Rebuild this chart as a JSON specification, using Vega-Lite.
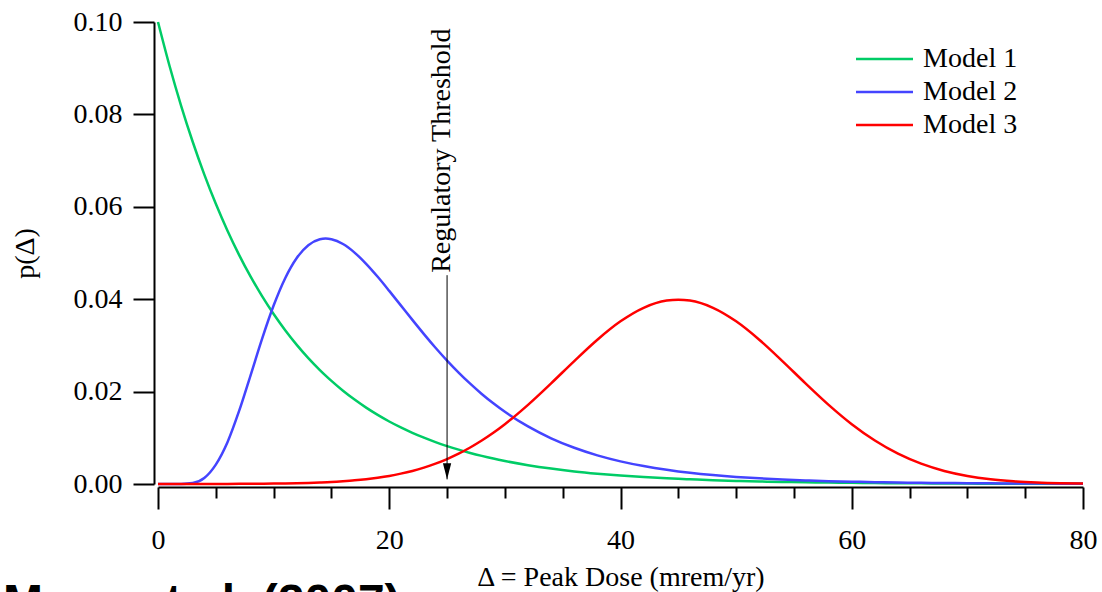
{
  "$schema": "https://vega.github.io/schema/vega-lite/v6.json",
  "width": 925,
  "height": 462,
  "autosize": "none",
  "padding": {"left": 158, "top": 22, "right": 19, "bottom": 108},
  "background": "white",
  "config": {
    "view": {"stroke": null},
    "axis": {"grid": false, "tickColor": "black", "domainColor": "black", "labelColor": "black", "titleColor": "black", "labelFont": "Liberation Serif", "titleFont": "Liberation Serif", "labelFontSize": 28, "titleFontSize": 28, "titleFontWeight": "normal", "labelFlush": false, "labelOverlap": false}
  },
  "layer": [
    {
      "data": {"values": [
        {"m":"Model 1","x":0,"p":0.1},{"m":"Model 1","x":1,"p":0.09048},{"m":"Model 1","x":2,"p":0.08187},{"m":"Model 1","x":3,"p":0.07408},{"m":"Model 1","x":4,"p":0.06703},{"m":"Model 1","x":5,"p":0.06065},{"m":"Model 1","x":6,"p":0.05488},{"m":"Model 1","x":7,"p":0.04966},{"m":"Model 1","x":8,"p":0.04493},{"m":"Model 1","x":9,"p":0.04066},{"m":"Model 1","x":10,"p":0.03679},{"m":"Model 1","x":11,"p":0.03329},{"m":"Model 1","x":12,"p":0.03012},{"m":"Model 1","x":13,"p":0.02725},{"m":"Model 1","x":14,"p":0.02466},{"m":"Model 1","x":14.5,"p":0.02346},{"m":"Model 1","x":15,"p":0.02231},{"m":"Model 1","x":16,"p":0.02019},{"m":"Model 1","x":17,"p":0.01827},{"m":"Model 1","x":18,"p":0.01653},{"m":"Model 1","x":19,"p":0.01496},{"m":"Model 1","x":20,"p":0.01353},{"m":"Model 1","x":21,"p":0.01225},{"m":"Model 1","x":22,"p":0.01108},{"m":"Model 1","x":23,"p":0.01003},{"m":"Model 1","x":24,"p":0.00907},{"m":"Model 1","x":25,"p":0.00821},{"m":"Model 1","x":26,"p":0.00743},{"m":"Model 1","x":27,"p":0.00672},{"m":"Model 1","x":28,"p":0.00608},{"m":"Model 1","x":29,"p":0.0055},{"m":"Model 1","x":30,"p":0.00498},{"m":"Model 1","x":32,"p":0.00408},{"m":"Model 1","x":34,"p":0.00334},{"m":"Model 1","x":36,"p":0.00273},{"m":"Model 1","x":38,"p":0.00224},{"m":"Model 1","x":40,"p":0.00183},{"m":"Model 1","x":42,"p":0.0015},{"m":"Model 1","x":44,"p":0.00123},{"m":"Model 1","x":45,"p":0.00111},{"m":"Model 1","x":46,"p":0.00101},{"m":"Model 1","x":48,"p":0.00082},{"m":"Model 1","x":50,"p":0.00067},{"m":"Model 1","x":52,"p":0.00055},{"m":"Model 1","x":54,"p":0.00045},{"m":"Model 1","x":56,"p":0.00037},{"m":"Model 1","x":58,"p":0.0003},{"m":"Model 1","x":60,"p":0.00025},{"m":"Model 1","x":62,"p":0.0002},{"m":"Model 1","x":64,"p":0.00017},{"m":"Model 1","x":66,"p":0.00014},{"m":"Model 1","x":68,"p":0.00011},{"m":"Model 1","x":70,"p":0.00009},{"m":"Model 1","x":72,"p":0.00007},{"m":"Model 1","x":74,"p":0.00006},{"m":"Model 1","x":76,"p":0.00005},{"m":"Model 1","x":78,"p":0.00004},{"m":"Model 1","x":80,"p":0.00003},
        {"m":"Model 2","x":0,"p":0},{"m":"Model 2","x":1,"p":0},{"m":"Model 2","x":2,"p":0.00001},{"m":"Model 2","x":3,"p":0.0002},{"m":"Model 2","x":4,"p":0.0013},{"m":"Model 2","x":5,"p":0.0042},{"m":"Model 2","x":6,"p":0.00899},{"m":"Model 2","x":7,"p":0.0157},{"m":"Model 2","x":8,"p":0.02348},{"m":"Model 2","x":9,"p":0.03142},{"m":"Model 2","x":10,"p":0.03863},{"m":"Model 2","x":11,"p":0.04455},{"m":"Model 2","x":12,"p":0.04892},{"m":"Model 2","x":13,"p":0.05169},{"m":"Model 2","x":14,"p":0.05298},{"m":"Model 2","x":14.5,"p":0.05314},{"m":"Model 2","x":15,"p":0.05298},{"m":"Model 2","x":16,"p":0.05194},{"m":"Model 2","x":17,"p":0.05009},{"m":"Model 2","x":18,"p":0.04766},{"m":"Model 2","x":19,"p":0.04485},{"m":"Model 2","x":20,"p":0.0418},{"m":"Model 2","x":21,"p":0.03866},{"m":"Model 2","x":22,"p":0.03552},{"m":"Model 2","x":23,"p":0.03245},{"m":"Model 2","x":24,"p":0.0295},{"m":"Model 2","x":25,"p":0.02672},{"m":"Model 2","x":26,"p":0.02412},{"m":"Model 2","x":27,"p":0.02171},{"m":"Model 2","x":28,"p":0.01949},{"m":"Model 2","x":29,"p":0.01747},{"m":"Model 2","x":30,"p":0.01563},{"m":"Model 2","x":32,"p":0.01246},{"m":"Model 2","x":34,"p":0.00989},{"m":"Model 2","x":36,"p":0.00784},{"m":"Model 2","x":38,"p":0.0062},{"m":"Model 2","x":40,"p":0.0049},{"m":"Model 2","x":42,"p":0.00388},{"m":"Model 2","x":44,"p":0.00307},{"m":"Model 2","x":45,"p":0.00273},{"m":"Model 2","x":46,"p":0.00243},{"m":"Model 2","x":48,"p":0.00193},{"m":"Model 2","x":50,"p":0.00153},{"m":"Model 2","x":52,"p":0.00122},{"m":"Model 2","x":54,"p":0.00097},{"m":"Model 2","x":56,"p":0.00078},{"m":"Model 2","x":58,"p":0.00062},{"m":"Model 2","x":60,"p":0.0005},{"m":"Model 2","x":62,"p":0.0004},{"m":"Model 2","x":64,"p":0.00032},{"m":"Model 2","x":66,"p":0.00026},{"m":"Model 2","x":68,"p":0.00021},{"m":"Model 2","x":70,"p":0.00017},{"m":"Model 2","x":72,"p":0.00014},{"m":"Model 2","x":74,"p":0.00011},{"m":"Model 2","x":76,"p":0.00009},{"m":"Model 2","x":78,"p":0.00008},{"m":"Model 2","x":80,"p":0.00006},
        {"m":"Model 3","x":0,"p":0},{"m":"Model 3","x":2,"p":0},{"m":"Model 3","x":4,"p":0.00001},{"m":"Model 3","x":6,"p":0.00002},{"m":"Model 3","x":8,"p":0.00004},{"m":"Model 3","x":10,"p":0.00009},{"m":"Model 3","x":11,"p":0.00012},{"m":"Model 3","x":12,"p":0.00017},{"m":"Model 3","x":13,"p":0.00024},{"m":"Model 3","x":14,"p":0.00033},{"m":"Model 3","x":15,"p":0.00044},{"m":"Model 3","x":16,"p":0.0006},{"m":"Model 3","x":17,"p":0.00079},{"m":"Model 3","x":18,"p":0.00104},{"m":"Model 3","x":19,"p":0.00136},{"m":"Model 3","x":20,"p":0.00175},{"m":"Model 3","x":21,"p":0.00224},{"m":"Model 3","x":22,"p":0.00283},{"m":"Model 3","x":23,"p":0.00355},{"m":"Model 3","x":24,"p":0.0044},{"m":"Model 3","x":25,"p":0.0054},{"m":"Model 3","x":26,"p":0.00656},{"m":"Model 3","x":27,"p":0.0079},{"m":"Model 3","x":28,"p":0.00941},{"m":"Model 3","x":29,"p":0.01109},{"m":"Model 3","x":30,"p":0.01295},{"m":"Model 3","x":32,"p":0.01714},{"m":"Model 3","x":34,"p":0.02179},{"m":"Model 3","x":36,"p":0.02661},{"m":"Model 3","x":38,"p":0.03123},{"m":"Model 3","x":40,"p":0.03521},{"m":"Model 3","x":42,"p":0.03814},{"m":"Model 3","x":44,"p":0.0397},{"m":"Model 3","x":45,"p":0.03989},{"m":"Model 3","x":46,"p":0.0397},{"m":"Model 3","x":48,"p":0.03814},{"m":"Model 3","x":50,"p":0.03521},{"m":"Model 3","x":52,"p":0.03123},{"m":"Model 3","x":54,"p":0.02661},{"m":"Model 3","x":56,"p":0.02179},{"m":"Model 3","x":58,"p":0.01714},{"m":"Model 3","x":60,"p":0.01295},{"m":"Model 3","x":62,"p":0.00941},{"m":"Model 3","x":64,"p":0.00656},{"m":"Model 3","x":66,"p":0.0044},{"m":"Model 3","x":68,"p":0.00283},{"m":"Model 3","x":70,"p":0.00175},{"m":"Model 3","x":72,"p":0.00104},{"m":"Model 3","x":74,"p":0.0006},{"m":"Model 3","x":76,"p":0.00033},{"m":"Model 3","x":78,"p":0.00017},{"m":"Model 3","x":80,"p":0.00009}
      ]},
      "mark": {"type": "line", "strokeWidth": 2.5, "interpolate": "monotone"},
      "encoding": {
        "x": {"field": "x", "type": "quantitative", "scale": {"domain": [0, 80], "nice": false},
          "axis": {"orient": "bottom", "values": [0, 5, 10, 15, 20, 25, 30, 35, 40, 45, 50, 55, 60, 65, 70, 75, 80], "labelExpr": "datum.value % 20 === 0 ? datum.label : ''", "format": "d", "offset": 3,
            "tickSize": {"condition": {"test": "datum.value % 20 === 0", "value": 22}, "value": 11},
            "tickWidth": 2, "domainWidth": 2, "labelPadding": 17, "title": "Δ = Peak Dose (mrem/yr)", "titleBaseline": "alphabetic", "titleY": 98}},
        "y": {"field": "p", "type": "quantitative", "scale": {"domain": [0, 0.1], "nice": false},
          "axis": {"orient": "left", "values": [0, 0.02, 0.04, 0.06, 0.08, 0.1], "format": ".2f", "offset": 4, "tickSize": 21, "tickWidth": 2, "domainWidth": 2, "labelPadding": 11, "title": "p(Δ)", "titleAngle": 270, "titleBaseline": "alphabetic", "titleX": -121, "titleY": 231}},
        "color": {"field": "m", "type": "nominal",
          "scale": {"domain": ["Model 1", "Model 2", "Model 3"], "range": ["#00cc66", "#4444ff", "#ff0000"]},
          "legend": {"orient": "none", "legendX": 698, "legendY": 23, "direction": "vertical", "title": null, "padding": 0, "symbolType": "M-5.7,0H5.7", "symbolSize": 100, "symbolStrokeWidth": 2.5, "symbolOffset": 14.5, "labelOffset": 24.6, "rowPadding": 5, "labelFont": "Liberation Serif", "labelFontSize": 28, "labelColor": "black"}}
      }
    },
    {
      "data": {"values": [{"x": 25, "y": 0.0452, "y2": 0.001}]},
      "mark": {"type": "rule", "color": "black", "strokeWidth": 1},
      "encoding": {
        "x": {"field": "x", "type": "quantitative", "scale": {"domain": [0, 80], "nice": false}},
        "y": {"field": "y", "type": "quantitative", "scale": {"domain": [0, 0.1], "nice": false}},
        "y2": {"field": "y2"}
      }
    },
    {
      "data": {"values": [{"x": 25, "y": 0.00102}]},
      "mark": {"type": "point", "shape": "M-0.5,-1.93L0.5,-1.93L0,0Z", "size": 276, "filled": true, "color": "black", "opacity": 1, "strokeWidth": 0},
      "encoding": {
        "x": {"field": "x", "type": "quantitative", "scale": {"domain": [0, 80], "nice": false}},
        "y": {"field": "y", "type": "quantitative", "scale": {"domain": [0, 0.1], "nice": false}}
      }
    },
    {
      "data": {"values": [{"x": 25, "y": 0.0457, "t": "Regulatory Threshold"}]},
      "mark": {"type": "text", "angle": 270, "align": "left", "baseline": "alphabetic", "dy": 3, "font": "Liberation Serif", "fontSize": 28, "color": "black"},
      "encoding": {
        "x": {"field": "x", "type": "quantitative", "scale": {"domain": [0, 80], "nice": false}},
        "y": {"field": "y", "type": "quantitative", "scale": {"domain": [0, 0.1], "nice": false}},
        "text": {"field": "t"}
      }
    },
    {
      "data": {"values": [{"x": -13.4, "y": -0.0291, "t": "Mena et al. (2007)"}]},
      "mark": {"type": "text", "align": "left", "baseline": "alphabetic", "font": "Liberation Sans", "fontSize": 48, "fontWeight": "bold", "color": "black"},
      "encoding": {
        "x": {"field": "x", "type": "quantitative", "scale": {"domain": [0, 80], "nice": false}},
        "y": {"field": "y", "type": "quantitative", "scale": {"domain": [0, 0.1], "nice": false}},
        "text": {"field": "t"}
      }
    }
  ]
}
